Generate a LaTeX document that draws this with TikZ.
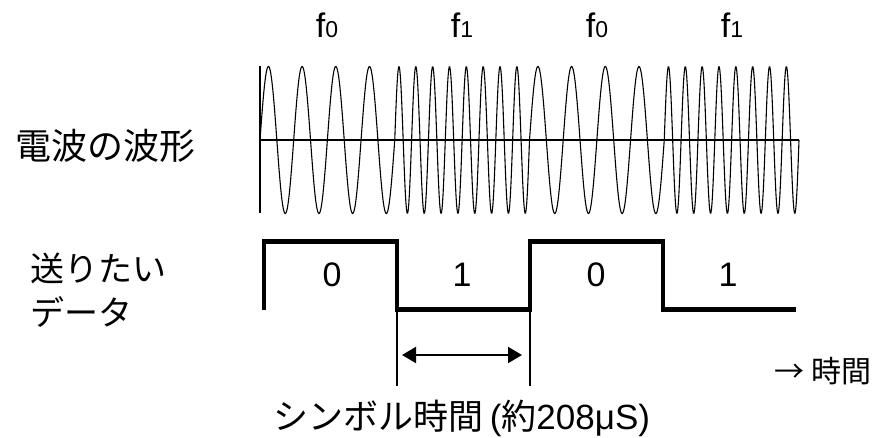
\documentclass[tikz,border=0pt]{standalone}
\usepackage{fontspec}
\setmainfont{Liberation Sans}
\newfontfamily\jpfont{Noto Sans CJK JP}
\usetikzlibrary{arrows.meta,positioning}
\newcommand{\freqlabel}[1]{f{\fontsize{23}{26}\selectfont #1}}

\begin{document}
\begin{tikzpicture}[
    x=1pt, y=-1pt,
    wave/.style={line width=1.1pt},
    axisline/.style={line width=1.7pt},
    dataline/.style={line width=4.6pt, line join=miter},
    tick/.style={line width=1.1pt},
    span/.style={{Triangle[length=14pt,width=16pt]}-{Triangle[length=14pt,width=16pt]},
      line width=2pt},
    label/.style={font=\jpfont\fontsize{34}{44}\selectfont, inner sep=0pt,
      align=left},
    freq/.style={font=\fontsize{34}{38}\selectfont, inner sep=0pt, anchor=base},
    bit/.style={font=\fontsize{34}{40}\selectfont, inner sep=0pt}
  ]
  \useasboundingbox (0,0) rectangle (875,437);

  % waveform: f0 = 4 cycles, f1 = 8 cycles per symbol
  \foreach \cyc [count=\k from 0] in {4,8,4,8}
    \draw[wave] plot[domain=0:134.75, samples=241, variable=\t]
      ({260+134.75*\k+\t}, {140-73.5*sin(\cyc*(360/134.75)*\t)});
  \draw[wave] (260,66) -- (260,213);
  \draw[axisline] (260,140) -- (799,140);

  \foreach \n/\xx [count=\i] in {0/327,1/462,0/597,1/732}
    \node[freq] (freq\i) at (\xx,37) {\freqlabel{\n}};

  \node[label, anchor=west] (wave-label) at (15,146)
    {\fontsize{36}{44}\selectfont 電波の波形};
  \node[label, anchor=west] (data-label) at (30,290) {送りたい\\データ};

  % data to send
  \coordinate (d0) at (264,309.5);
  \coordinate (d1) at (397,309.5);
  \coordinate (d2) at (530,309.5);
  \coordinate (d3) at (663,309.5);
  \coordinate (d4) at (796,309.5);
  \draw[dataline] (d0) |- (d1 |- 0,241.5) -- (d1) -- (d2)
    |- (d3 |- 0,241.5) -- (d3) -- (d4);

  \foreach \b/\xx [count=\i] in {0/332,1/462,0/596,1/728}
    \node[bit] (bit\i) at (\xx,275) {\b};

  % symbol time
  \draw[tick] (d1) -- ++(0,76) coordinate (e1);
  \draw[tick] (d2) -- ++(0,76) coordinate (e2);
  \coordinate (a1) at (402,355);
  \coordinate (a2) at (522,355);
  \draw[span] (a1) -- (a2);

  \node[inner sep=0pt, font=\fontsize{35}{40}\selectfont] (symbol-time) at (462,418)
    {{\jpfont シンボル時間}\,({\jpfont 約}208μS)};
  \node[inner sep=0pt, font=\jpfont\fontsize{30}{34}\selectfont] (time-axis)
    at (823,371) {→ 時間};
\end{tikzpicture}
\end{document}
